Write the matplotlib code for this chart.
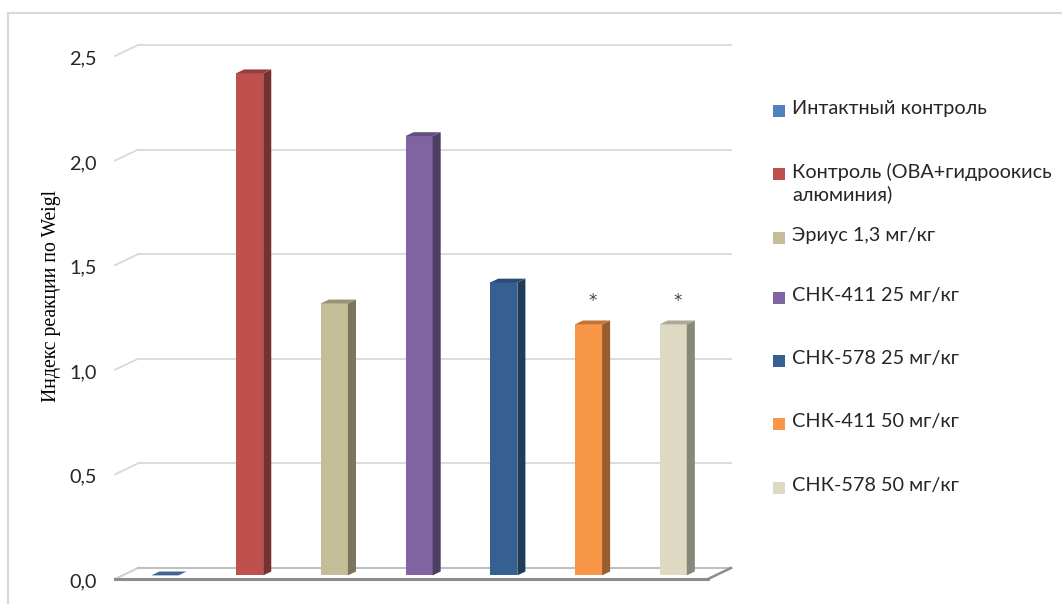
import matplotlib.pyplot as plt
from matplotlib.patches import Polygon, Rectangle
import numpy as np

# === DATA ===
groups = ["Интактный контроль",
          "Контроль (ОВА+гидроокись\nалюминия)",
          "Эриус 1,3 мг/кг",
          "СНК-411 25 мг/кг",
          "СНК-578 25 мг/кг",
          "СНК-411 50 мг/кг",
          "СНК-578 50 мг/кг"]
values = [0.0, 2.4, 1.3, 2.1, 1.4, 1.2, 1.2]
marks = ["", "", "", "", "", "*", "*"]
colors = ["#4F81BD", "#C0504D", "#C4BD97", "#8064A2", "#366092", "#F79646", "#DDD9C3"]
yticks = [0.0, 0.5, 1.0, 1.5, 2.0, 2.5]
ytick_labels = ["0,0", "0,5", "1,0", "1,5", "2,0", "2,5"]
ylabel = "Индекс реакции по Weigl"

# === LAYOUT (pixels) ===
W, H = 1062, 604
FRONT_L, FRONT_R = 115, 708
FRONT_Y0, FRONT_YT = 579, 56
DEPTH_PX = (23, 11)
BAR_W = 0.32
BAR_F0 = 0.33   # bar front at this fraction of floor depth
BAR_D = 0.35    # bar depth as fraction of floor depth
FONT = "Lato"
FS = 14.3


def shade(c, k):
    r, g, b = plt.matplotlib.colors.to_rgb(c)
    return (r * k, g * k, b * k)


fig = plt.figure(figsize=(W / 100, H / 100), dpi=100)
fig.patch.set_facecolor("white")
ax = fig.add_axes([FRONT_L / W, (H - FRONT_Y0) / H,
                   (FRONT_R - FRONT_L) / W, (FRONT_Y0 - FRONT_YT) / H])
n = len(values)
ax.set_xlim(-0.5, n - 0.5)
ax.set_ylim(0, 2.5)
ax.axis("off")

# depth offsets in data units
DX = DEPTH_PX[0] / ((FRONT_R - FRONT_L) / n)
DY = DEPTH_PX[1] / ((FRONT_Y0 - FRONT_YT) / 2.5)
x0, x1 = -0.5, n - 0.5

# chart frame
fig.patches.append(Rectangle((8 / W, -0.1), 1.2, (H - 13) / H + 0.1,
                             transform=fig.transFigure, fill=False,
                             edgecolor="#D9D9D9", lw=1.5))

# grid lines: side wall diagonal + back wall
for v, lab in zip(yticks, ytick_labels):
    if v > 0:
        ax.plot([x0, x0 + DX], [v, v + DY], color="#D9D9D9", lw=1.3, clip_on=False)
        ax.plot([x0 + DX, x1 + DX], [v + DY, v + DY], color="#D9D9D9", lw=1.3, clip_on=False)
    ax.annotate(lab, (x0, v), xytext=(-13, -2), textcoords="offset points",
                ha="right", va="center", fontsize=FS, family=FONT,
                color="#262626", annotation_clip=False)

# floor
ax.plot([x0, x0 + DX], [0, DY], color="#D0D0D0", lw=1.5, clip_on=False)
ax.plot([x0 + DX, x1 + DX], [DY, DY], color="#C0C0C0", lw=1.5, clip_on=False)
ax.plot([x1, x1 + DX], [0, DY], color="#8C8C8C", lw=1.8, clip_on=False)
ax.plot([x0, x1], [0, 0], color="#8C8C8C", lw=2.2, clip_on=False)

# bars
for i, (v, c, m) in enumerate(zip(values, colors, marks)):
    xl = i - BAR_W / 2 + BAR_F0 * DX
    xr = xl + BAR_W
    b = BAR_F0 * DY
    dx, dy = BAR_D * DX, BAR_D * DY
    if v > 0:
        ax.add_patch(Rectangle((xl, b), BAR_W, v, facecolor=c, edgecolor="none",
                               clip_on=False, zorder=3))
        ax.add_patch(Polygon([(xr, b), (xr + dx, b + dy), (xr + dx, b + v + dy), (xr, b + v)],
                             closed=True, facecolor=shade(c, 0.62), edgecolor="none",
                             clip_on=False, zorder=3))
    ax.add_patch(Polygon([(xl, b + v), (xr, b + v), (xr + dx, b + v + dy), (xl + dx, b + v + dy)],
                         closed=True, facecolor=shade(c, 0.78), edgecolor="none",
                         clip_on=False, zorder=4))
    if m:
        ax.annotate(m, ((xl + xr) / 2 + dx / 2, v + b), xytext=(0, 17),
                    textcoords="offset points", ha="center", va="center",
                    fontsize=12, color="#404040", family="DejaVu Sans",
                    annotation_clip=False)

# y label
fig.text(52 / W, 1 - 296 / H, ylabel, rotation=90, ha="center", va="center",
         fontsize=14.2, family="Liberation Serif", color="#000000")

# legend
leg_y = [111, 174, 238, 298, 361, 424, 488]
for g, c, y in zip(groups, colors, leg_y):
    fig.patches.append(Rectangle((773 / W, 1 - (y + 6) / H), 12 / W, 12 / H,
                                 transform=fig.transFigure, facecolor=c, edgecolor="none"))
    fig.text(792 / W, 1 - (y - 11) / H, g, ha="left", va="top", fontsize=FS,
             family=FONT, color="#262626", linespacing=1.3)

fig.savefig("out.png", dpi=100)
